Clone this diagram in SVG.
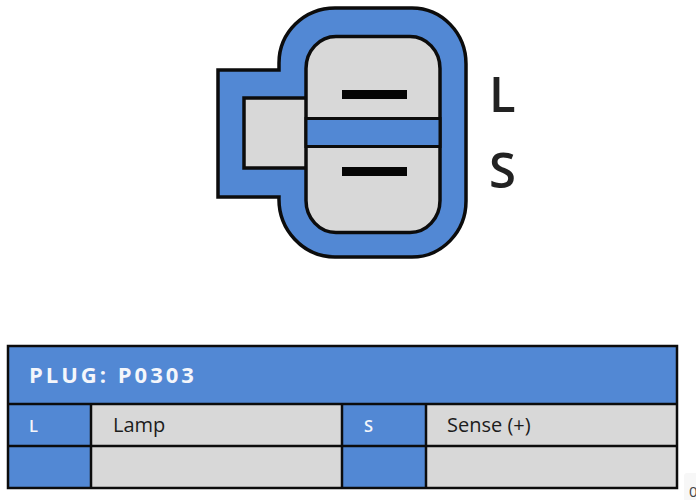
<svg xmlns="http://www.w3.org/2000/svg" width="696" height="500" viewBox="0 0 696 500">
<style>
.s{stroke:#0c0c0c;stroke-linejoin:miter}
.b{fill:#5288d4}
.g{fill:#d8d8d8}
text{font-family:"Open Sans","Noto Sans","Liberation Sans",sans-serif}
.w{fill:#f4f6fb;font-weight:600}
.d{fill:#1c1c1c;font-size:20px}
</style>
<rect width="696" height="500" fill="#fff"/>
<g id="connector">
<path id="housing" class="s b" stroke-width="3.500" d="M279 70V63A56 55 0 0 1 335 8H412A54 56 0 0 1 466 64V201A54 56 0 0 1 412 257H335A56 58 0 0 1 279 197H218V70Z"/>
<rect id="tab" class="s g" stroke-width="3.500" x="244" y="98" width="70" height="70"/>
<rect id="cavity" class="s g" stroke-width="3.500" x="306" y="36.500" width="134" height="196" rx="30" ry="32"/>
<rect id="divider" class="s b" stroke-width="3" x="306" y="118.500" width="134" height="28"/>
<rect id="pin-l" x="342" y="90" width="65" height="9" fill="#050505"/>
<rect id="pin-s" x="342" y="167" width="65" height="9" fill="#050505"/>
<text id="label-l" x="489" y="112" font-size="49" font-weight="600" fill="#222">L</text>
<text id="label-s" x="489" y="188" font-size="49" font-weight="600" fill="#222">S</text>
</g>
<g id="table">
<rect id="header" class="b" x="8" y="346" width="669" height="58"/>
<rect id="c1" class="b" x="8" y="404" width="83" height="84"/>
<rect id="c2" class="g" x="91" y="404" width="251" height="84"/>
<rect id="c3" class="b" x="342" y="404" width="84" height="84"/>
<rect id="c4" class="g" x="426" y="404" width="251" height="84"/>
<path class="s" stroke-width="2.500" fill="none" d="M8 346H677V488H8ZM8 404H677M8 446H677M91 404V488M342 404V488M426 404V488"/>
<text class="w" x="29" y="383" font-size="22" letter-spacing="3" style="font-weight:700">PLUG: P0303</text>
<text class="w" x="29" y="432" font-size="16.500">L</text>
<text class="d" x="113" y="432">Lamp</text>
<text class="w" x="364" y="432" font-size="16.500">S</text>
<text class="d" x="447" y="432">Sense (+)</text>
</g>
<g id="corner">
<rect x="684" y="473" width="14" height="30" rx="3" fill="#f7f7f7"/>
<text x="689" y="497" font-size="15" fill="#444">0</text>
</g>
</svg>
